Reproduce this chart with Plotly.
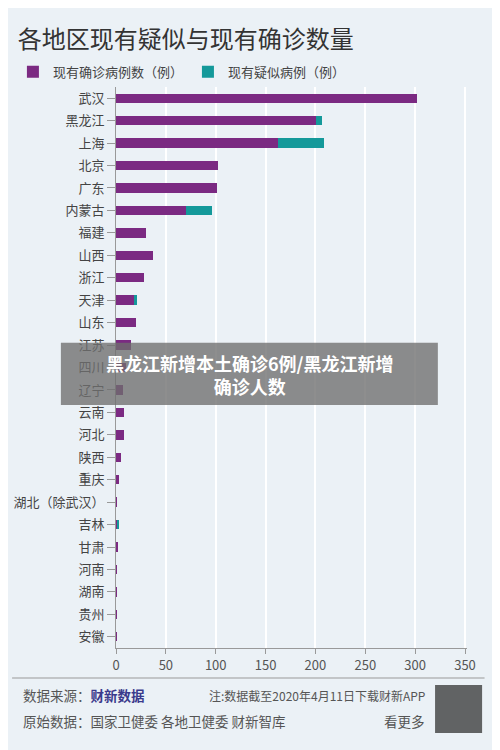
import plotly.graph_objects as go

regions = ["武汉","黑龙江","上海","北京","广东","内蒙古","福建","山西","浙江","天津","山东","江苏","四川","辽宁","云南","河北","陕西","重庆","湖北（除武汉）","吉林","甘肃","河南","湖南","贵州","安徽"]
confirmed = [302,201,162,102,101,70,30,37,28,19,20,15,10,7,8,8,5,3,1,2,2,1,1,1,1]
suspected = [0,6,47,0,0,26,0,0,0,2,0,0,0,0,0,0,0,0,0,1,0,0,0,0,0]
ticks = [0,50,100,150,200,250,300,350]

bg = "#ebf1f6"
fig = go.Figure()
fig.add_bar(y=regions, x=confirmed, orientation="h", name="现有确诊病例数（例）",
            marker=dict(color="#7b2a82", line=dict(width=0)))
fig.add_bar(y=regions, x=suspected, orientation="h", name="现有疑似病例（例）",
            marker=dict(color="#14999a", line=dict(width=0)))
fig.update_layout(
    width=492, height=742, barmode="stack", bargap=0.58,
    paper_bgcolor=bg, plot_bgcolor=bg,
    margin=dict(l=108, r=33, t=79, b=102, autoexpand=False),
    font=dict(family="Noto Sans CJK SC", color="#444", size=13),
    showlegend=True,
    legend=dict(orientation="h", traceorder="normal", x=0.01, xref="container", y=0.914, yref="container",
                yanchor="middle", xanchor="left",
                font=dict(size=13), bgcolor="rgba(0,0,0,0)", itemwidth=30),
    title=dict(text="各地区现有疑似与现有确诊数量", x=0.02, xref="container", xanchor="left",
               y=0.958, yref="container", yanchor="middle",
               font=dict(size=24, color="#333")),
    xaxis=dict(range=[0,352], tickvals=ticks, showgrid=True, gridcolor="white", gridwidth=2,
               zeroline=False, showline=True, linecolor="#999", ticks="outside", tickcolor="#999",
               ticklen=5, tickfont=dict(size=13, color="#555"), automargin=False),
    yaxis=dict(autorange="reversed", showline=True, linecolor="#999", ticks="outside",
               tickcolor="#999", ticklen=8, tickfont=dict(size=13, color="#444"), automargin=False),
)
# footer
fig.add_shape(type="line", xref="paper", yref="paper", x0=-0.296, x1=1.05, y0=-0.0535, y1=-0.0535,
              line=dict(color="#999", width=1))
fig.add_annotation(xref="paper", yref="paper", x=-0.27, y=-0.084, xanchor="left", yanchor="middle", showarrow=False,
                   text="数据来源：<b><span style='color:#3a3a8c'>财新数据</span></b>", font=dict(size=13.5, color="#555"))
fig.add_annotation(xref="paper", yref="paper", x=-0.27, y=-0.13, xanchor="left", yanchor="middle", showarrow=False,
                   text="原始数据：国家卫健委 各地卫健委 财新智库", font=dict(size=13.5, color="#555"))
fig.add_annotation(xref="paper", yref="paper", x=0.885, y=-0.084, xanchor="right", yanchor="middle", showarrow=False,
                   text="注:数据截至2020年4月11日下载财新APP", font=dict(size=12, color="#555"))
fig.add_annotation(xref="paper", yref="paper", x=0.885, y=-0.13, xanchor="right", yanchor="middle", showarrow=False,
                   text="看更多", font=dict(size=13.5, color="#555"))
fig.add_shape(type="rect", xref="paper", yref="paper", x0=0.909, x1=1.043, y0=-0.1515, y1=-0.066,
              fillcolor="#333", line=dict(width=0), opacity=0.75)
# banner overlay
fig.add_shape(type="rect", xref="paper", yref="paper", x0=-0.157, x1=0.917, y0=0.433, y1=0.544,
              fillcolor="rgba(110,110,110,0.78)", line=dict(width=0))
fig.add_annotation(xref="paper", yref="paper", x=0.382, y=0.488, showarrow=False,
                   text="<b>黑龙江新增本土确诊6例/黑龙江新增<br>确诊人数</b>",
                   font=dict(size=18, color="white"), align="center")
fig.write_html("out.html")
